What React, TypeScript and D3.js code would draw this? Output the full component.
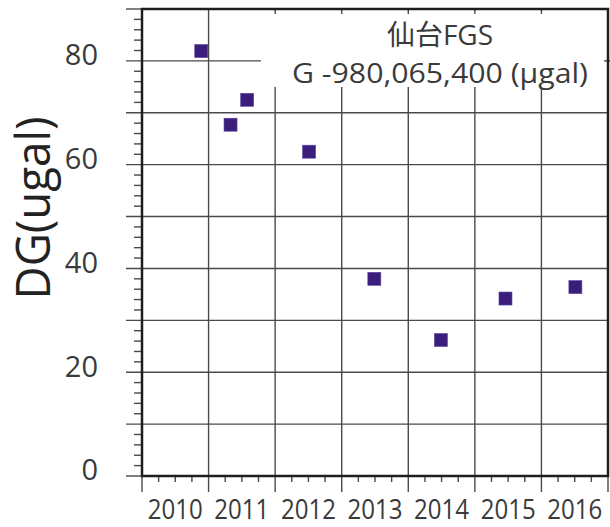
import { useRef, useEffect } from 'react';
import { scaleLinear, select, range } from 'd3';

// observation epochs (decimal year) and gravity difference from 980,065,400 ugal
const obsTime = [2010.89, 2011.33, 2011.58, 2012.51, 2013.49, 2014.49, 2015.46, 2016.51];
const obsDG = [81.9, 67.7, 72.5, 62.5, 38.0, 26.2, 34.2, 36.4];
const yearLabels = ['2010', '2011', '2012', '2013', '2014', '2015', '2016'];
const yTickLabels = [0, 20, 40, 60, 80];
const titleLines = ['仙台FGS', 'G -980,065,400 (\u03bcgal)'];

const W = 610;
const H = 527;
const font = "'Open Sans', 'Noto Sans CJK JP', sans-serif";
const textColor = '#3a3a3a';

const App = () => {
  const ref = useRef(null);

  useEffect(() => {
    if (!ref.current) return;
    const svg = select(ref.current);
    svg.selectAll('*').remove();

    const x = scaleLinear().domain([2010, 2017]).range([142, 608]);
    const y = scaleLinear().domain([0, 90]).range([476, 9]);
    const [x0, x1] = x.range();
    const [y0, y1] = y.range();

    // box reserved for the title text (grid is cut there)
    const boxLeft = 261;
    const boxBottom = 87;

    const grid = svg.append('g').attr('stroke', '#4a4a4a').attr('stroke-width', 1.4);

    // horizontal grid + major y ticks
    range(0, 91, 10).forEach((v) => {
      let end = x1;
      if (v === 0 || v === 90) end = x0;
      else if (y(v) < boxBottom) end = boxLeft;
      grid.append('line').attr('x1', x0 - 16).attr('x2', end).attr('y1', y(v)).attr('y2', y(v));
    });
    // minor y ticks
    range(0, 91, 2)
      .filter((v) => v % 10 !== 0)
      .forEach((v) => {
        grid.append('line').attr('x1', x0 - 8).attr('x2', x0).attr('y1', y(v)).attr('y2', y(v));
      });

    // vertical grid + major x ticks
    range(2010, 2018).forEach((yr) => {
      let top = y1;
      if (yr !== 2010 && yr !== 2017 && x(yr) > boxLeft) top = boxBottom;
      if (yr === 2017) top = y0;
      grid.append('line').attr('x1', x(yr)).attr('x2', x(yr)).attr('y1', top).attr('y2', y0 + 16);
      if (top === boxBottom) {
        grid.append('line').attr('x1', x(yr)).attr('x2', x(yr)).attr('y1', y1).attr('y2', y1 + 5);
      }
    });
    // minor x ticks (quarters)
    range(2010, 2017, 0.25)
      .filter((t) => Math.abs(t - Math.round(t)) > 0.01)
      .forEach((t) => {
        grid.append('line').attr('x1', x(t)).attr('x2', x(t)).attr('y1', y0).attr('y2', y0 + 6);
      });
    // right side tick at 80
    grid.append('line').attr('x1', x1 - 4).attr('x2', x1 + 2).attr('y1', y(80)).attr('y2', y(80));

    // frame
    svg
      .append('rect')
      .attr('x', x0)
      .attr('y', y1)
      .attr('width', x1 - x0)
      .attr('height', y0 - y1)
      .attr('fill', 'none')
      .attr('stroke', '#1e1e1e')
      .attr('stroke-width', 2.5);

    // y tick labels
    svg
      .append('g')
      .selectAll('text')
      .data(yTickLabels)
      .join('text')
      .attr('x', 98)
      .attr('y', (d) => y(d) - 6)
      .attr('dy', '0.36em')
      .attr('text-anchor', 'end')
      .attr('font-family', font)
      .attr('font-size', 29)
      .attr('fill', textColor)
      .text((d) => d);

    // x tick labels
    svg
      .append('g')
      .selectAll('text')
      .data(yearLabels)
      .join('text')
      .attr('x', (d) => x(+d + 0.5))
      .attr('y', 519)
      .attr('text-anchor', 'middle')
      .attr('font-family', font)
      .attr('font-size', 28)
      .attr('textLength', 55)
      .attr('lengthAdjust', 'spacingAndGlyphs')
      .attr('fill', textColor)
      .text((d) => d);

    // y axis title
    svg
      .append('text')
      .attr('transform', 'translate(50,208) rotate(-90)')
      .attr('text-anchor', 'middle')
      .attr('font-family', font)
      .attr('font-size', 47)
      .attr('textLength', 183)
      .attr('lengthAdjust', 'spacingAndGlyphs')
      .attr('fill', '#222')
      .text('DG(ugal)');

    // station title
    svg
      .append('text')
      .attr('x', 440)
      .attr('y', 45)
      .attr('text-anchor', 'middle')
      .attr('font-family', font)
      .attr('font-size', 28)
      .attr('fill', textColor)
      .text(titleLines[0]);
    svg
      .append('text')
      .attr('x', 440)
      .attr('y', 83)
      .attr('text-anchor', 'middle')
      .attr('font-family', font)
      .attr('font-size', 28)
      .attr('textLength', 296)
      .attr('lengthAdjust', 'spacingAndGlyphs')
      .attr('fill', textColor)
      .text(titleLines[1]);

    // observations
    const s = 13;
    svg
      .append('g')
      .selectAll('rect')
      .data(obsTime.map((t, i) => [t, obsDG[i]]))
      .join('rect')
      .attr('x', (d) => x(d[0]) - s / 2)
      .attr('y', (d) => y(d[1]) - s / 2)
      .attr('width', s)
      .attr('height', s)
      .attr('fill', '#3b1d7c')
      .attr('stroke', '#5a45a0')
      .attr('stroke-width', 0.6);
  }, []);

  return (
    <svg
      ref={ref}
      width={W}
      height={H}
      style={{ position: 'absolute', left: 0, top: 0, background: '#fff' }}
    />
  );
};

export default App;
